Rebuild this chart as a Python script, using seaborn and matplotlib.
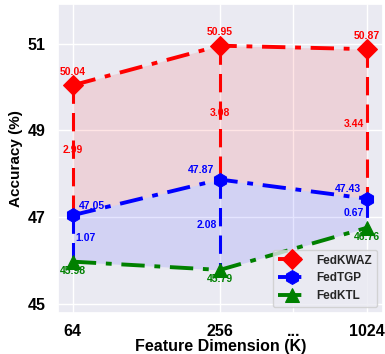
import matplotlib
matplotlib.use("Agg")
import matplotlib.pyplot as plt
import seaborn as sns
import pandas as pd
import numpy as np

dims = ["64", "256", "1024"]
fedkwaz = [50.04, 50.95, 50.87]
fedtgp = [47.05, 47.87, 47.43]
fedktl = [45.98, 45.79, 46.76]

sns.set_theme(style="darkgrid")
plt.rcParams['font.family'] = ['Liberation Sans', 'DejaVu Sans']

fig, ax = plt.subplots(figsize=(3.85, 3.54), dpi=100)
pos = np.arange(len(dims))

ax.fill_between(pos, fedtgp, fedkwaz, color="red", alpha=0.1, linewidth=0)
ax.fill_between(pos, fedktl, fedtgp, color="blue", alpha=0.1, linewidth=0)

# vertical gap lines
for i in range(len(dims)):
    ax.plot([pos[i], pos[i]], [fedkwaz[i], fedtgp[i]], color="red", ls=(0, (6, 3)), lw=2.2, zorder=2)
    ax.plot([pos[i], pos[i]], [fedtgp[i], fedktl[i]], color="blue", ls=(0, (6, 3)), lw=2.2, zorder=2)

series = [("FedKWAZ", fedkwaz, "red", "D"), ("FedTGP", fedtgp, "blue", "h"), ("FedKTL", fedktl, "green", "^")]
for name, vals, c, m in series:
    df = pd.DataFrame({"x": pos, "y": vals})
    sns.lineplot(data=df, x="x", y="y", ax=ax, color=c, marker=m, markersize=10,
                 linewidth=2.8, linestyle=(0, (6, 2.5, 1.5, 2.5)), label=name, markeredgecolor=c, zorder=3)

fs = 7.5
for i in range(3):
    ax.annotate(f"{fedkwaz[i]:.2f}", (pos[i], fedkwaz[i]), xytext=(0, 6), textcoords="offset points",
                ha="center", va="bottom", color="red", fontsize=fs, fontweight="bold")
tgp_off = [(4, 3, "left"), (-4, 3, "right"), (-4, 3, "right")]
for i in range(3):
    dx, dy, ha = tgp_off[i]
    ax.annotate(f"{fedtgp[i]:.2f}", (pos[i], fedtgp[i]), xytext=(dx, dy), textcoords="offset points",
                ha=ha, va="bottom", color="blue", fontsize=fs, fontweight="bold")
for i in range(3):
    ax.annotate(f"{fedktl[i]:.2f}", (pos[i], fedktl[i]), xytext=(0, -3), textcoords="offset points",
                ha="center", va="top", color="green", fontsize=fs, fontweight="bold")

red_ha = ["center", "center", "right"]
red_dx = [0, 0, -2]
for i in range(3):
    mid = (fedkwaz[i] + fedtgp[i]) / 2
    ax.annotate(f"{fedkwaz[i] - fedtgp[i]:.2f}", (pos[i], mid), xytext=(red_dx[i], 0), textcoords="offset points",
                ha=red_ha[i], va="center", color="red", fontsize=fs, fontweight="bold")
blue_ha = ["left", "right", "right"]
blue_dx = [2, -2, -2]
for i in range(3):
    mid = (fedtgp[i] + fedktl[i]) / 2
    ax.annotate(f"{fedtgp[i] - fedktl[i]:.2f}", (pos[i], mid), xytext=(blue_dx[i], 0), textcoords="offset points",
                ha=blue_ha[i], va="center", color="blue", fontsize=fs, fontweight="bold")

ax.set_xticks([0, 1, 1.5, 2])
ax.set_xticklabels(["64", "256", "...", "1024"], fontweight="bold", fontsize=11.5, color="black")
ax.set_yticks([45, 47, 49, 51])
ax.set_yticklabels(["45", "47", "49", "51"], fontweight="bold", fontsize=11.5, color="black")
ax.tick_params(axis="x", pad=2)
ax.tick_params(axis="y", pad=3)
ax.set_xlim(-0.1, 2.11)
ax.set_ylim(44.8, 51.92)
ax.set_xlabel("Feature Dimension (K)", fontweight="bold", fontsize=11.5, labelpad=0, color="black")
ax.set_ylabel("Accuracy (%)", fontweight="bold", fontsize=11, labelpad=3, color="black")

leg = ax.legend(loc="lower right", prop={"weight": "bold", "size": 8.5}, frameon=True,
                handlelength=2.5, borderaxespad=0.5)

fig.subplots_adjust(left=0.151, right=0.995, top=0.99, bottom=0.116)
fig.savefig("out.png", dpi=100)
